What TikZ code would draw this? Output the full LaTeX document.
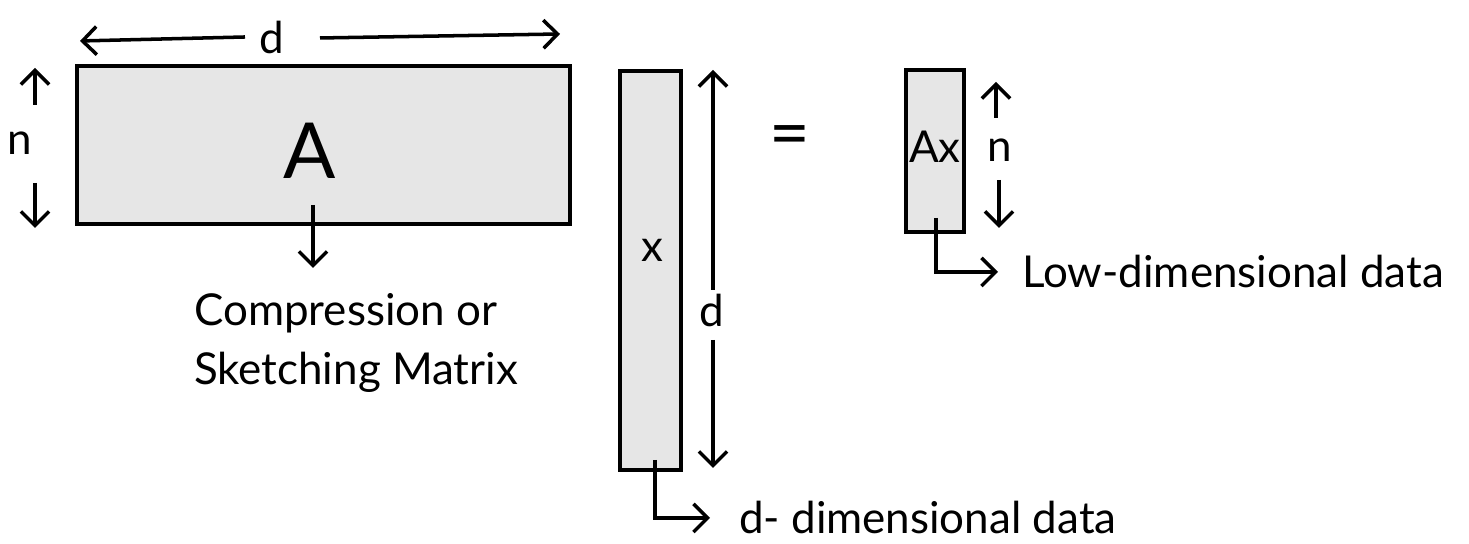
\documentclass[tikz,border=0pt]{standalone}
\usepackage{fontspec}
\setmainfont{Lato}
\usetikzlibrary{arrows.meta}
\definecolor{boxgray}{HTML}{E6E6E6}
\tikzset{
  mat/.style={draw, line width=1.2pt, fill=boxgray, inner sep=0pt},
  arr/.style={line width=1pt, -{Straight Barb[length=4pt,width=8pt]}},
  lbl/.style={font=\fontsize{12.5}{17}\selectfont, inner sep=1pt},
}
\begin{document}
\begin{tikzpicture}
  \useasboundingbox (0, 0) rectangle (14.69, 5.44);
  % matrices
  \node[mat, minimum width=4.93cm, minimum height=1.58cm] (A) at (3.235, 3.99) {};
  \node[mat, minimum width=0.61cm, minimum height=3.99cm] (x) at (6.505, 2.735) {};
  \node[mat, minimum width=0.58cm, minimum height=1.62cm] (Ax) at (9.35, 3.93) {};
  \node[font=\fontsize{22}{26}\selectfont] (Alab) at (3.10, 3.93) {A};
  \node[lbl] (xlab) at (6.52, 2.94) {x};
  \node[lbl] (Axlab) at (9.35, 3.97) {Ax};
  \node[font=\fontsize{20}{24}\selectfont] (eq) at (7.90, 4.02) {=};
  % d over A
  \coordinate (dL) at (0.80, 5.03);
  \coordinate (dR) at (5.60, 5.10);
  \node[lbl] (dtop) at (2.72, 5.07) {d};
  \draw[arr] (2.45, 5.07) -- (dL);
  \draw[arr] (3.20, 5.06) -- (dR);
  % n beside A
  \node[lbl] (nA) at (0.20, 4.01) {n};
  \draw[arr] (0.35, 4.39) -- (0.35, 4.76);
  \draw[arr] (0.35, 3.61) -- (0.35, 3.16);
  % d beside x
  \node[lbl] (dx) at (7.12, 2.34) {d};
  \draw[arr] (7.13, 2.54) -- (7.13, 4.74);
  \draw[arr] (7.13, 2.04) -- (7.13, 0.76);
  % n beside Ax
  \node[lbl] (nAx) at (10.00, 3.94) {n};
  \draw[arr] (9.96, 4.26) -- (9.96, 4.62);
  \draw[arr] (9.99, 3.64) -- (9.99, 3.16);
  % notes
  \node[lbl, align=left, anchor=north west] (comp) at (1.90, 2.55)
    {Compression or\\Sketching Matrix};
  \draw[arr] (3.13, 3.39) -- (3.13, 2.76);
  \node[lbl, anchor=west] (low) at (10.18, 2.72) {Low-dimensional data};
  \draw[arr, shorten >=0.2cm] (9.36, 3.26) |- (low.west);
  \node[lbl, anchor=west] (high) at (7.35, 0.26) {d- dimensional data};
  \draw[arr, shorten >=0.25cm] (6.55, 0.84) |- (high.west);
\end{tikzpicture}
\end{document}
